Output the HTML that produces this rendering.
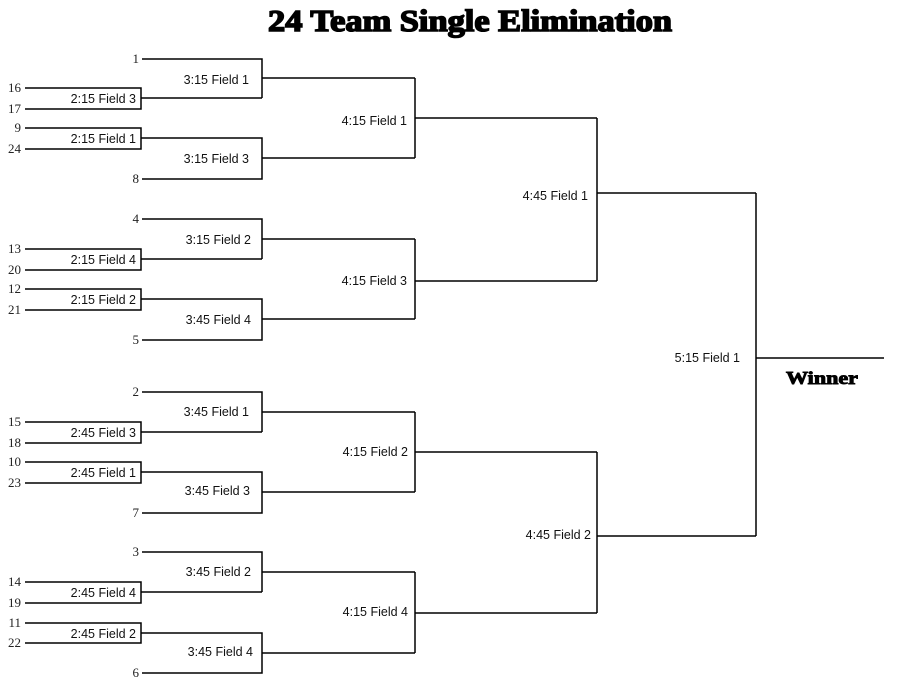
<!DOCTYPE html>
<html><head><meta charset="utf-8"><style>
html,body{margin:0;padding:0;background:#fff;}
svg{display:block;}
.n{font-family:"Liberation Serif",serif;font-size:13px;fill:#222;text-anchor:end;}
.l{font-family:"Liberation Sans",sans-serif;font-size:12.5px;fill:#111;text-anchor:end;}
</style></head><body>
<svg width="900" height="697" viewBox="0 0 900 697" xmlns="http://www.w3.org/2000/svg">
<text x="470" y="31" text-anchor="middle" font-family="Liberation Serif,serif" font-weight="bold" font-size="31" textLength="404" lengthAdjust="spacingAndGlyphs" stroke="#000" stroke-width="1.6" fill="#000">24 Team Single Elimination</text>
<g fill="none" stroke="#000" stroke-width="1.5">
<path d="M142 59H262V98M25 88H141V109H25M141 98H262M262 78H415"/>
<path d="M25 128H141V149H25M141 138H262V179H142M262 158H415M415 78V158M415 118H597"/>
<path d="M142 219H262V259M25 249H141V270H25M141 259H262M262 239H415"/>
<path d="M25 289H141V310H25M141 299H262V340H142M262 319H415M415 239V319M415 281H597"/>
<path d="M142 392H262V432M25 422H141V443H25M141 432H262M262 412H415"/>
<path d="M25 462H141V483H25M141 472H262V513H142M262 492H415M415 412V492M415 452H597"/>
<path d="M142 552H262V592M25 582H141V603H25M141 592H262M262 572H415"/>
<path d="M25 623H141V643H25M141 633H262V673H142M262 653H415M415 572V653M415 613H597"/>
<path d="M597 118V281M597 193H756M597 452V613M597 536H756M756 193V536M756 358H884"/>
</g>
<g class="n">
<text x="139" y="63">1</text><text x="21" y="92">16</text><text x="21" y="113">17</text>
<text x="21" y="132">9</text><text x="21" y="153">24</text><text x="139" y="183">8</text>
<text x="139" y="223">4</text><text x="21" y="253">13</text><text x="21" y="274">20</text>
<text x="21" y="293">12</text><text x="21" y="314">21</text><text x="139" y="344">5</text>
<text x="139" y="396">2</text><text x="21" y="426">15</text><text x="21" y="447">18</text>
<text x="21" y="466">10</text><text x="21" y="487">23</text><text x="139" y="517">7</text>
<text x="139" y="556">3</text><text x="21" y="586">14</text><text x="21" y="607">19</text>
<text x="21" y="627">11</text><text x="21" y="647">22</text><text x="139" y="677">6</text>
</g>
<g class="l">
<text x="136" y="103">2:15 Field 3</text><text x="136" y="143">2:15 Field 1</text>
<text x="136" y="264">2:15 Field 4</text><text x="136" y="304">2:15 Field 2</text>
<text x="136" y="437">2:45 Field 3</text><text x="136" y="477">2:45 Field 1</text>
<text x="136" y="597">2:45 Field 4</text><text x="136" y="638">2:45 Field 2</text>
<text x="249" y="84">3:15 Field 1</text><text x="249" y="163">3:15 Field 3</text>
<text x="251" y="244">3:15 Field 2</text><text x="251" y="324">3:45 Field 4</text>
<text x="249" y="416">3:45 Field 1</text><text x="250" y="495">3:45 Field 3</text>
<text x="251" y="576">3:45 Field 2</text><text x="253" y="656">3:45 Field 4</text>
<text x="407" y="125">4:15 Field 1</text><text x="407" y="285">4:15 Field 3</text>
<text x="408" y="456">4:15 Field 2</text><text x="408" y="616">4:15 Field 4</text>
<text x="588" y="200">4:45 Field 1</text><text x="591" y="539">4:45 Field 2</text>
<text x="740" y="362">5:15 Field 1</text>
</g>
<text x="822" y="384" text-anchor="middle" font-family="Liberation Serif,serif" font-weight="bold" font-size="18" textLength="72" lengthAdjust="spacingAndGlyphs" stroke="#000" stroke-width="0.9" fill="#000">Winner</text>
</svg>
</body></html>
